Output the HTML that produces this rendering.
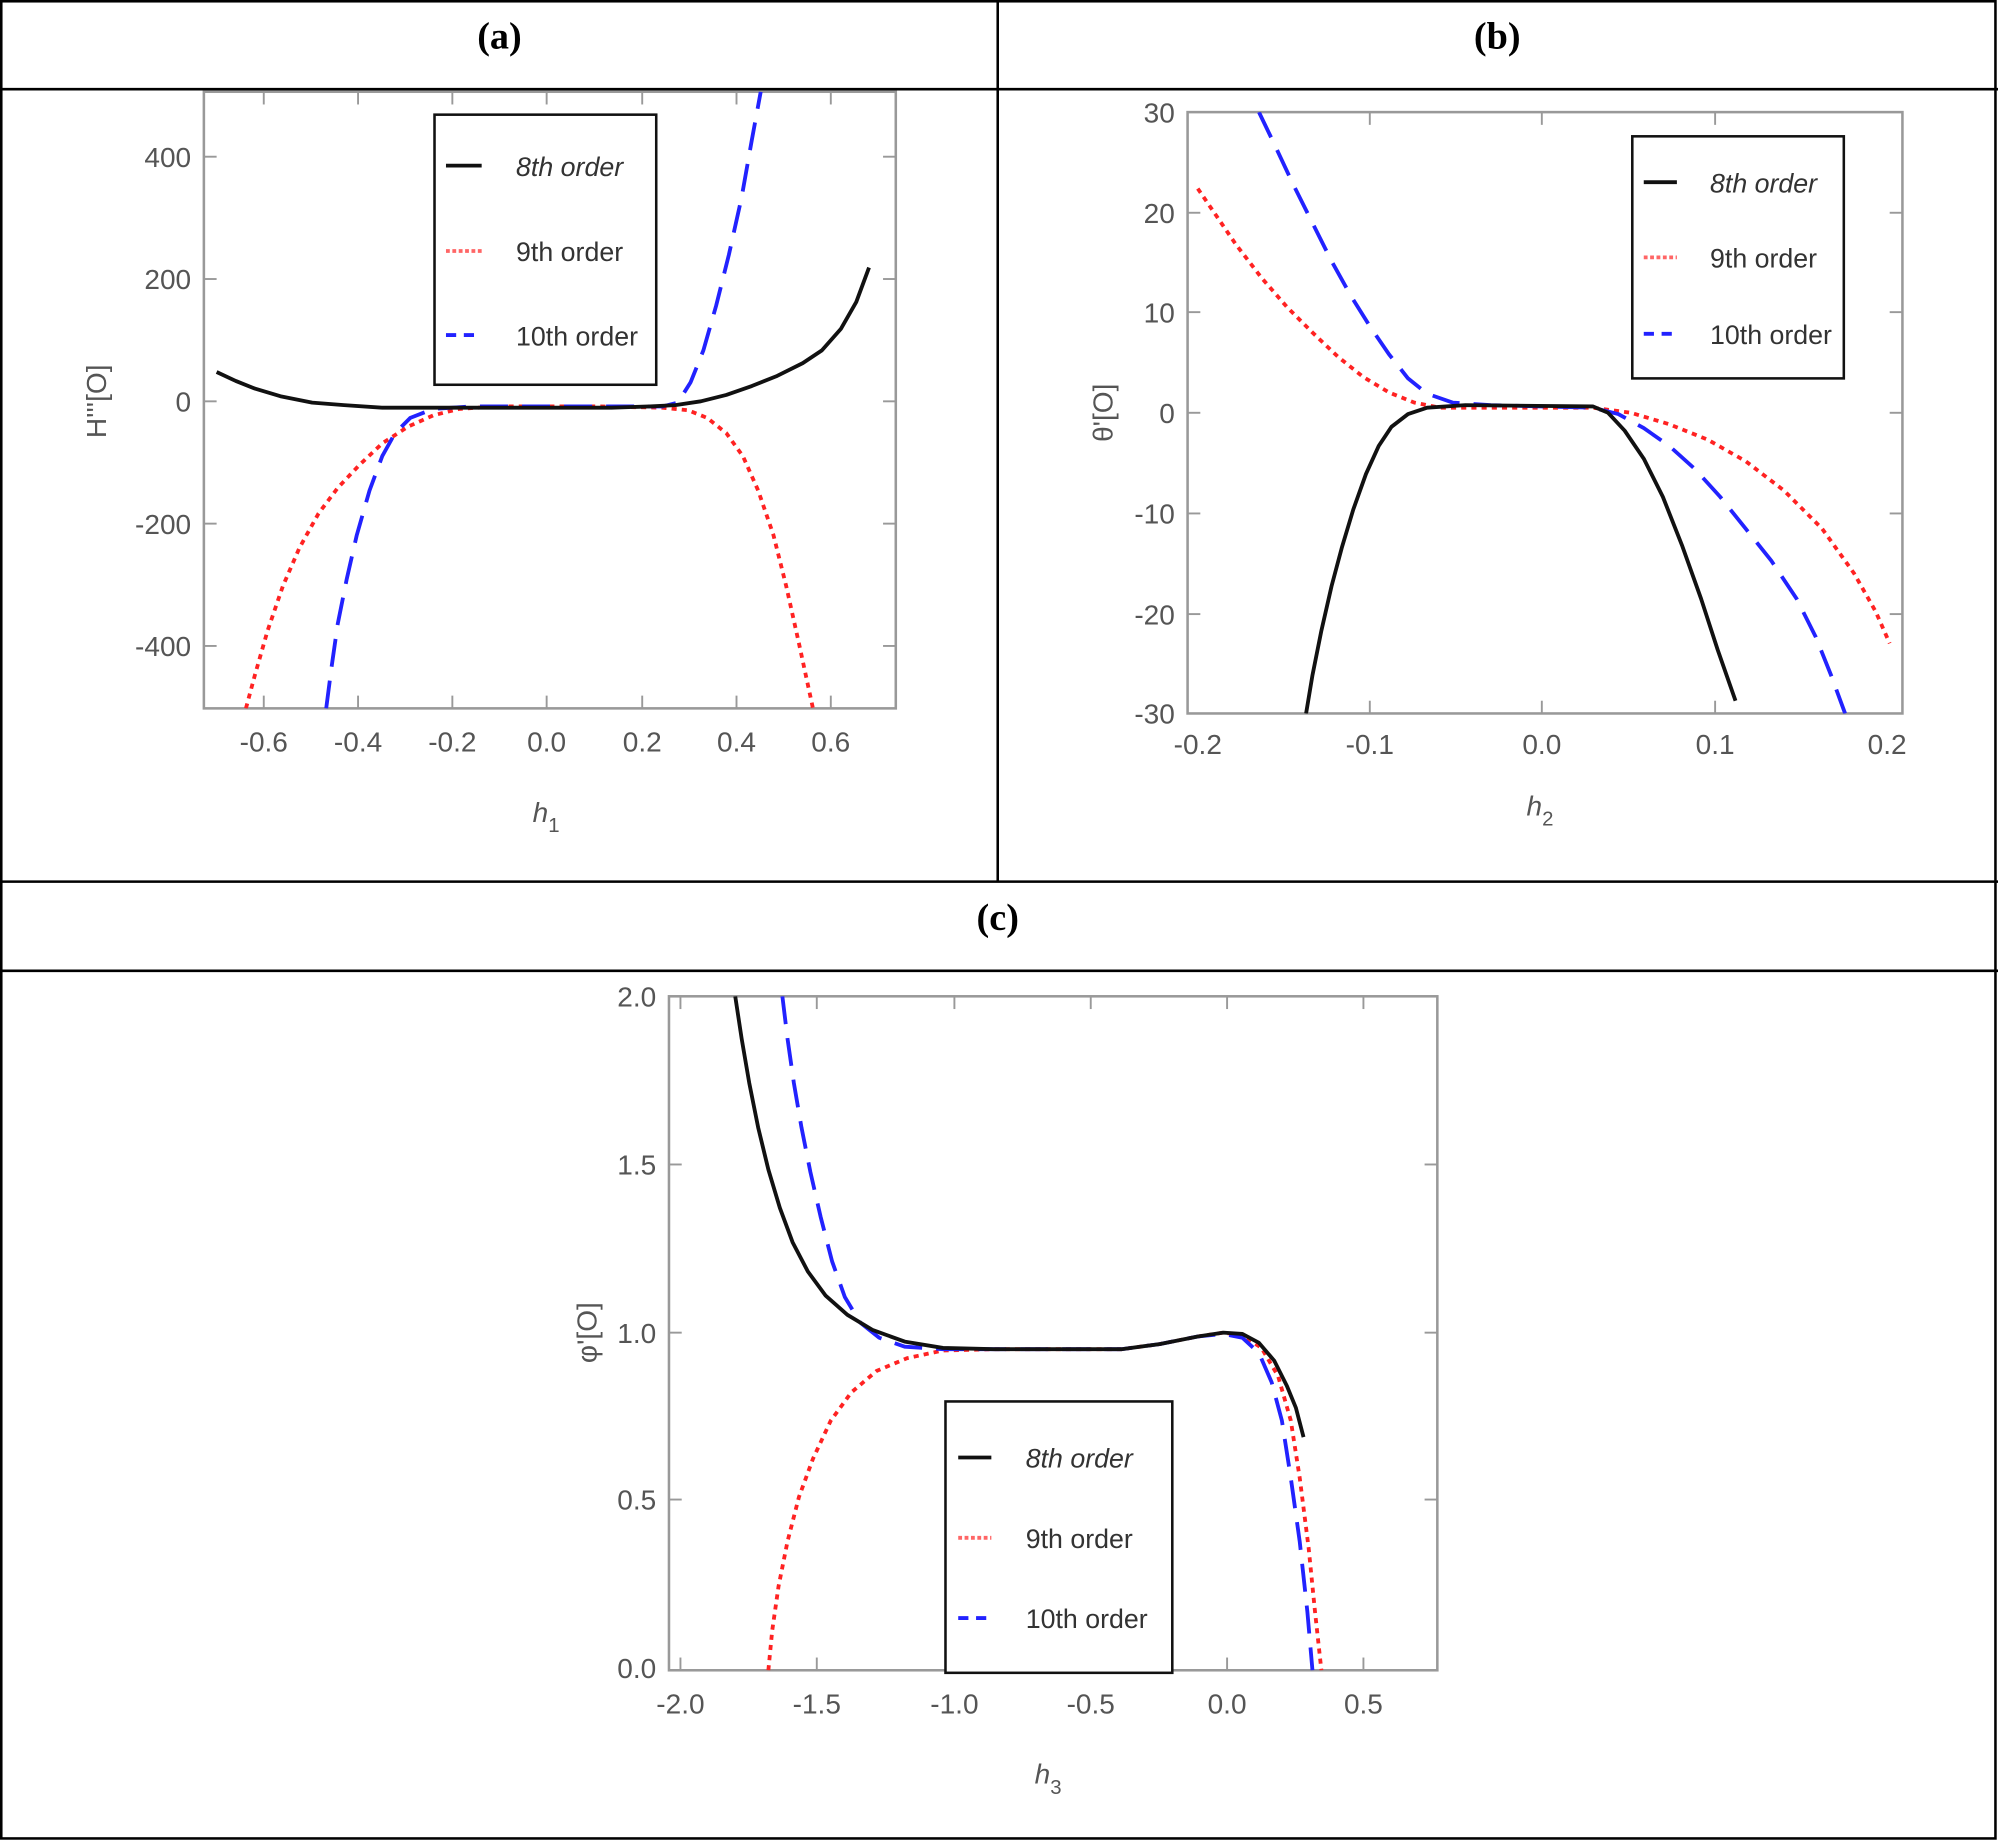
<!DOCTYPE html>
<html><head><meta charset="utf-8"><style>
html,body{margin:0;padding:0;background:#fff;}
svg{display:block;}
.t{font-family:"Liberation Sans",sans-serif;font-size:22px;fill:#555;}
.ti{font-family:"Liberation Serif",serif;font-size:30px;font-weight:bold;fill:#000;}
.lg{font-family:"Liberation Sans",sans-serif;font-size:21px;fill:#333;}
.fr{fill:none;stroke:#999;stroke-width:2;}
.tk{stroke:#999;stroke-width:1.5;}
.bk{fill:none;stroke:#111;stroke-width:3;stroke-linejoin:round;}
.rd{fill:none;stroke:#f22;stroke-width:3;stroke-dasharray:4 4;stroke-linejoin:round;}
.bl{fill:none;stroke:#22f;stroke-width:3;stroke-dasharray:22 11;stroke-linejoin:round;}
</style></head><body>
<svg width="1998" height="1841" viewBox="0 0 1568 1445" preserveAspectRatio="none" xmlns="http://www.w3.org/2000/svg">
<rect x="1" y="1" width="1565" height="1442" fill="#fff" stroke="#000" stroke-width="2"/>
<line x1="0" y1="70" x2="1568" y2="70" stroke="#000" stroke-width="2"/>
<line x1="783" y1="0" x2="783" y2="692" stroke="#000" stroke-width="2"/>
<line x1="0" y1="692" x2="1568" y2="692" stroke="#000" stroke-width="2"/>
<line x1="0" y1="762" x2="1568" y2="762" stroke="#000" stroke-width="2"/>
<text class="ti" x="392" y="38" text-anchor="middle">(a)</text>
<text class="ti" x="1175" y="38" text-anchor="middle">(b)</text>
<text class="ti" x="783" y="730" text-anchor="middle">(c)</text>

<!-- Panel a -->
<rect class="fr" x="160" y="72" width="543" height="484"/>
<g class="tk">
<line x1="160" y1="123" x2="170" y2="123"/><line x1="160" y1="219" x2="170" y2="219"/><line x1="160" y1="315" x2="170" y2="315"/><line x1="160" y1="411" x2="170" y2="411"/><line x1="160" y1="507" x2="170" y2="507"/>
<line x1="703" y1="123" x2="693" y2="123"/><line x1="703" y1="219" x2="693" y2="219"/><line x1="703" y1="315" x2="693" y2="315"/><line x1="703" y1="411" x2="693" y2="411"/><line x1="703" y1="507" x2="693" y2="507"/>
<line x1="207" y1="556" x2="207" y2="546"/><line x1="281" y1="556" x2="281" y2="546"/><line x1="355" y1="556" x2="355" y2="546"/><line x1="429" y1="556" x2="429" y2="546"/><line x1="504" y1="556" x2="504" y2="546"/><line x1="578" y1="556" x2="578" y2="546"/><line x1="652" y1="556" x2="652" y2="546"/>
<line x1="207" y1="72" x2="207" y2="82"/><line x1="281" y1="72" x2="281" y2="82"/><line x1="355" y1="72" x2="355" y2="82"/><line x1="429" y1="72" x2="429" y2="82"/><line x1="504" y1="72" x2="504" y2="82"/><line x1="578" y1="72" x2="578" y2="82"/><line x1="652" y1="72" x2="652" y2="82"/>
</g>
<g class="t" text-anchor="end">
<text x="150" y="131">400</text><text x="150" y="227">200</text><text x="150" y="323">0</text><text x="150" y="419">-200</text><text x="150" y="515">-400</text>
</g>
<g class="t" text-anchor="middle">
<text x="207" y="590">-0.6</text><text x="281" y="590">-0.4</text><text x="355" y="590">-0.2</text><text x="429" y="590">0.0</text><text x="504" y="590">0.2</text><text x="578" y="590">0.4</text><text x="652" y="590">0.6</text>
</g>
<text class="t" transform="translate(83,315) rotate(-90)" text-anchor="middle">H'''[O]</text>
<text class="t" x="418" y="645" font-style="italic">h<tspan font-size="16" dy="8" font-style="normal">1</tspan></text>
<svg x="160" y="72" width="543" height="484" viewBox="160 72 543 484" overflow="hidden">
<polyline class="rd" points="193,556 200,530 210,495 222,460 235,430 250,403 265,383 282,365 300,348 320,335 340,326 360,321 390,319 470,319 520,320 540,322 555,328 570,340 583,358 595,385 607,420 617,460 627,505 638,556"/>
<polyline class="bl" points="256,556 260,525 265,490 272,455 280,420 290,385 300,358 310,340 322,328 340,321 370,319 520,319 532,316 542,300 552,275 562,240 572,200 582,155 590,110 597,72"/>
<polyline class="bk" points="170,292 185,299 200,305 220,311 245,316 270,318 300,320 350,320 430,320 480,320 510,319 530,318 550,315 570,310 590,303 610,295 630,285 645,275 660,258 672,237 682,210"/>
</svg>
<rect x="341" y="90" width="174" height="212" fill="#fff" stroke="#111" stroke-width="2"/>
<line x1="350" y1="130" x2="378" y2="130" class="bk"/>
<line x1="350" y1="197" x2="378" y2="197" stroke="#f66" stroke-width="3" stroke-dasharray="3 2"/>
<line x1="350" y1="263" x2="378" y2="263" stroke="#22f" stroke-width="3" stroke-dasharray="8 6"/>
<text class="lg" x="405" y="138" font-style="italic">8th order</text>
<text class="lg" x="405" y="205">9th order</text>
<text class="lg" x="405" y="271">10th order</text>

<!-- Panel b -->
<rect class="fr" x="932" y="88" width="561" height="472"/>
<g class="tk">
<line x1="932" y1="167" x2="942" y2="167"/><line x1="932" y1="245" x2="942" y2="245"/><line x1="932" y1="324" x2="942" y2="324"/><line x1="932" y1="403" x2="942" y2="403"/><line x1="932" y1="482" x2="942" y2="482"/>
<line x1="1493" y1="167" x2="1483" y2="167"/><line x1="1493" y1="245" x2="1483" y2="245"/><line x1="1493" y1="324" x2="1483" y2="324"/><line x1="1493" y1="403" x2="1483" y2="403"/><line x1="1493" y1="482" x2="1483" y2="482"/>
<line x1="1075" y1="560" x2="1075" y2="550"/><line x1="1210" y1="560" x2="1210" y2="550"/><line x1="1346" y1="560" x2="1346" y2="550"/>
<line x1="1075" y1="88" x2="1075" y2="98"/><line x1="1210" y1="88" x2="1210" y2="98"/><line x1="1346" y1="88" x2="1346" y2="98"/>
</g>
<g class="t" text-anchor="end">
<text x="922" y="96">30</text><text x="922" y="175">20</text><text x="922" y="253">10</text><text x="922" y="332">0</text><text x="922" y="411">-10</text><text x="922" y="490">-20</text><text x="922" y="568">-30</text>
</g>
<g class="t" text-anchor="middle">
<text x="940" y="592">-0.2</text><text x="1075" y="592">-0.1</text><text x="1210" y="592">0.0</text><text x="1346" y="592">0.1</text><text x="1481" y="592">0.2</text>
</g>
<text class="t" transform="translate(873,324) rotate(-90)" text-anchor="middle">θ'[O]</text>
<text class="t" x="1198" y="640" font-style="italic">h<tspan font-size="16" dy="8" font-style="normal">2</tspan></text>
<svg x="932" y="88" width="561" height="472" viewBox="932 88 561 472" overflow="hidden">
<polyline class="rd" points="940,148 955,170 970,192 990,218 1010,241 1030,261 1050,280 1070,296 1090,308 1110,316 1130,320 1160,320 1250,320 1280,324 1310,333 1340,345 1370,362 1400,385 1430,415 1455,450 1472,480 1483,505"/>
<polyline class="bl" points="988,88 1000,113 1015,145 1030,175 1045,205 1060,232 1075,256 1090,278 1105,297 1120,309 1140,316 1170,318 1250,320 1270,325 1290,336 1310,350 1330,368 1350,390 1370,415 1390,440 1410,470 1425,500 1437,530 1448,560"/>
<polyline class="bk" points="1025,560 1030,530 1037,495 1045,460 1053,430 1062,400 1072,372 1082,350 1092,335 1105,325 1120,320 1150,318 1250,319 1262,324 1275,338 1290,360 1305,390 1320,428 1335,470 1348,510 1362,550"/>
</svg>
<rect x="1281" y="107" width="166" height="190" fill="#fff" stroke="#111" stroke-width="2"/>
<line x1="1290" y1="143" x2="1316" y2="143" class="bk"/>
<line x1="1290" y1="202" x2="1316" y2="202" stroke="#f66" stroke-width="3" stroke-dasharray="3 2"/>
<line x1="1290" y1="262" x2="1316" y2="262" stroke="#22f" stroke-width="3" stroke-dasharray="8 6"/>
<text class="lg" x="1342" y="151" font-style="italic">8th order</text>
<text class="lg" x="1342" y="210">9th order</text>
<text class="lg" x="1342" y="270">10th order</text>

<!-- Panel c -->
<rect class="fr" x="525" y="782" width="603" height="529"/>
<g class="tk">
<line x1="525" y1="914" x2="535" y2="914"/><line x1="525" y1="1046" x2="535" y2="1046"/><line x1="525" y1="1177" x2="535" y2="1177"/>
<line x1="1128" y1="914" x2="1118" y2="914"/><line x1="1128" y1="1046" x2="1118" y2="1046"/><line x1="1128" y1="1177" x2="1118" y2="1177"/>
<line x1="534" y1="1311" x2="534" y2="1301"/><line x1="641" y1="1311" x2="641" y2="1301"/><line x1="749" y1="1311" x2="749" y2="1301"/><line x1="856" y1="1311" x2="856" y2="1301"/><line x1="963" y1="1311" x2="963" y2="1301"/><line x1="1070" y1="1311" x2="1070" y2="1301"/>
<line x1="534" y1="782" x2="534" y2="792"/><line x1="641" y1="782" x2="641" y2="792"/><line x1="749" y1="782" x2="749" y2="792"/><line x1="856" y1="782" x2="856" y2="792"/><line x1="963" y1="782" x2="963" y2="792"/><line x1="1070" y1="782" x2="1070" y2="792"/>
</g>
<g class="t" text-anchor="end">
<text x="515" y="790">2.0</text><text x="515" y="922">1.5</text><text x="515" y="1054">1.0</text><text x="515" y="1185">0.5</text><text x="515" y="1317">0.0</text>
</g>
<g class="t" text-anchor="middle">
<text x="534" y="1345">-2.0</text><text x="641" y="1345">-1.5</text><text x="749" y="1345">-1.0</text><text x="856" y="1345">-0.5</text><text x="963" y="1345">0.0</text><text x="1070" y="1345">0.5</text>
</g>
<text class="t" transform="translate(468,1046) rotate(-90)" text-anchor="middle">φ'[O]</text>
<text class="t" x="812" y="1400" font-style="italic">h<tspan font-size="16" dy="8" font-style="normal">3</tspan></text>
<svg x="525" y="782" width="603" height="529" viewBox="525 782 603 529" overflow="hidden">
<polyline class="rd" points="603,1311 606,1280 611,1245 618,1210 627,1175 638,1145 652,1115 668,1093 688,1076 712,1066 740,1060 780,1059 880,1059 910,1055 940,1049 960,1046 975,1048 990,1058 1003,1080 1013,1115 1020,1160 1027,1215 1032,1265 1037,1311"/>
<polyline class="bl" points="614,782 618,815 623,850 629,885 636,920 644,955 653,990 663,1018 675,1038 690,1050 710,1057 740,1059 880,1059 910,1055 940,1049 960,1047 975,1050 988,1062 998,1085 1006,1115 1013,1160 1020,1210 1026,1265 1030,1311"/>
<polyline class="bk" points="577,782 582,815 588,850 595,885 603,918 612,948 622,975 634,998 648,1017 665,1032 685,1044 710,1053 740,1058 780,1059 880,1059 910,1055 940,1049 960,1046 975,1047 988,1054 1000,1068 1010,1088 1017,1105 1023,1128"/>
</svg>
<rect x="742" y="1100" width="178" height="213" fill="#fff" stroke="#111" stroke-width="2"/>
<line x1="752" y1="1144" x2="778" y2="1144" class="bk"/>
<line x1="752" y1="1207" x2="778" y2="1207" stroke="#f66" stroke-width="3" stroke-dasharray="3 2"/>
<line x1="752" y1="1270" x2="778" y2="1270" stroke="#22f" stroke-width="3" stroke-dasharray="8 6"/>
<text class="lg" x="805" y="1152" font-style="italic">8th order</text>
<text class="lg" x="805" y="1215">9th order</text>
<text class="lg" x="805" y="1278">10th order</text>
</svg>
</body></html>
